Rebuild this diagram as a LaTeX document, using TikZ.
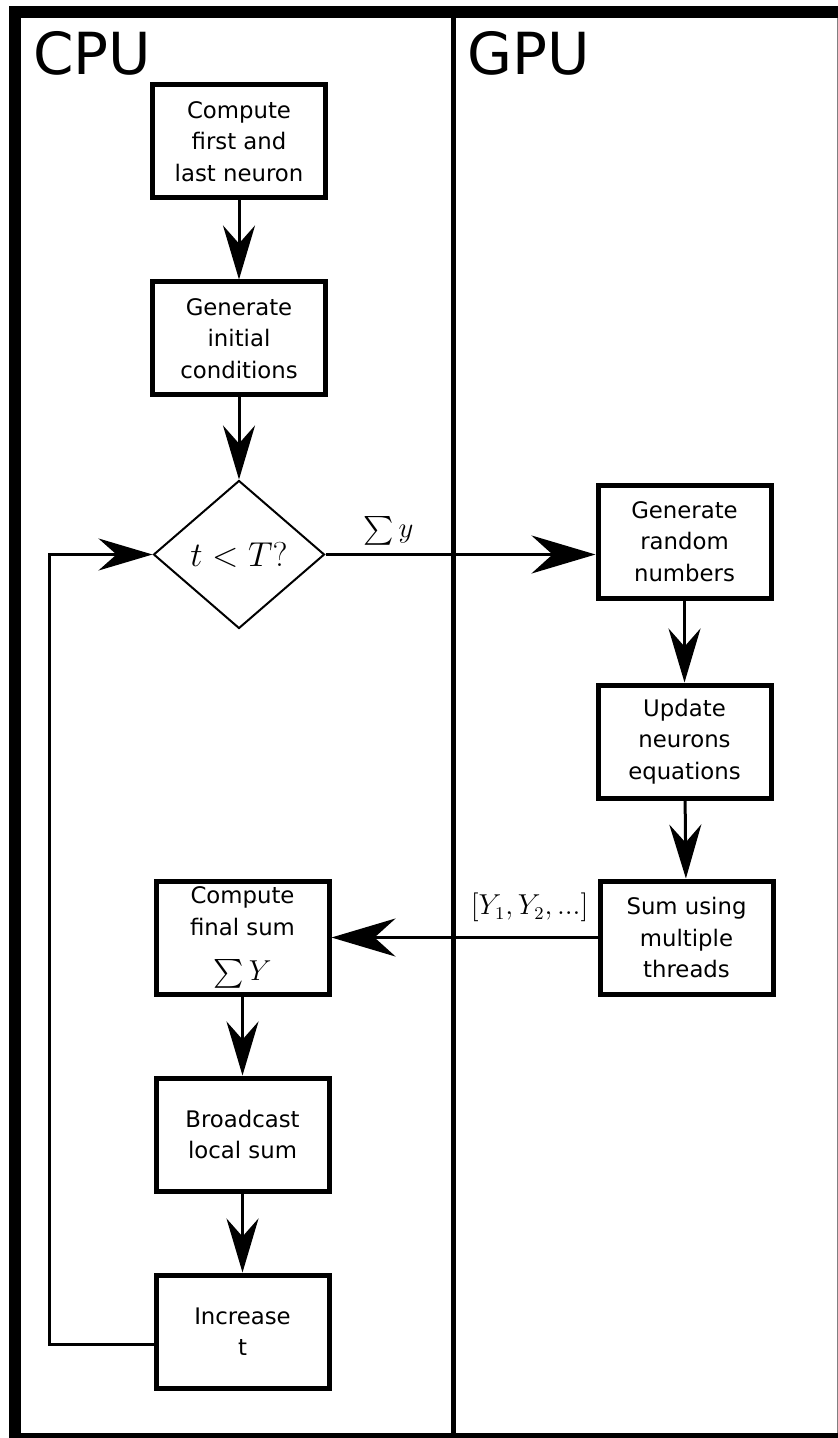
\documentclass[tikz,border=0pt]{standalone}
\usepackage{fontspec}
\setmainfont{DejaVu Sans}
\usepackage{amsmath}
\usetikzlibrary{positioning, arrows.meta, shapes.geometric}

\tikzset{
  procbox/.style={draw, rectangle, line width=2.5pt, minimum width=86.5pt, minimum height=56.5pt, align=center, inner sep=2pt, font=\fontsize{11.4}{15.8}\selectfont},
  decision/.style={draw, diamond, line width=1pt, minimum width=85.5pt, minimum height=74pt, inner sep=0pt, font=\fontsize{19}{19}\selectfont},
  lane/.style={anchor=base west, inner sep=0pt, font=\fontsize{29}{32}\selectfont},
  flow/.style={line width=1.5pt, -{Stealth[length=27pt, width=16pt, inset=9pt]}},
  wideflow/.style={line width=1.5pt, -{Stealth[length=32pt, width=19pt, inset=10.5pt]}},
}

\begin{document}
\begin{tikzpicture}[x=0.5pt, y=-0.5pt, node distance=39.5pt]
	\useasboundingbox (0,0) rectangle (838,1438);
	
	% Lanes
	\draw[line width=6pt] (15,1438) -- (15,12) -- (838,12);
	\draw[line width=2.5pt] (9,1435.5) -- (838,1435.5);
	\draw[line width=0.5pt, gray] (837,18) -- (837,1433);
	\draw[line width=2.5pt] (453.5,18) -- (453.5,1433);
	\node[lane] (cpu) at (33,75) {CPU};
	\node[lane] (gpu) at (467,75) {GPU};
	
	% Define nodes
	\node[procbox] (first) at (239,141.5) {Compute\\first and\\last neuron};
	\node[procbox, below=of first] (initc) {Generate\\initial\\conditions};
	\node[decision, below=41pt of initc] (check) {$t<T?$};
	\node[procbox, right=135pt of check, yshift=6.5pt] (random) {Generate\\random\\numbers};
	\node[procbox, below=41pt of random] (update) {Update\\neurons\\equations};
	\node[procbox, below=39pt of update, xshift=1pt] (sum) {Sum using\\multiple\\threads};
	\node[procbox, left=133pt of sum] (final) {Compute\\final sum\\[7pt]{\fontsize{15}{15}\selectfont$\sum Y$}};
	\node[procbox, below=of final] (bcast) {Broadcast\\local sum};
	\node[procbox, below=of bcast] (incr) {Increase\\t};
	
	% Arrows between blocks with labels
	\draw[flow] (first) -- (initc);
	\draw[flow] (initc) -- (check);
	\draw[wideflow] (check.east) -- (check.east -| random.west) node[pos=0.233, above=4pt, inner sep=0pt, font=\fontsize{15.5}{15.5}\selectfont] {$\sum y$};
	\draw[flow] (random) -- (update);
	\draw[flow] (update) -- (sum);
	\draw[wideflow] (sum.west) -- (sum.west -| final.east) node[pos=0.255, above=7pt, inner sep=0pt, font=\fontsize{13.5}{13.5}\selectfont] {$[Y_1,Y_2,...]$};
	\draw[flow] (final) -- (bcast);
	\draw[flow] (bcast) -- (incr);
	\draw[flow] ([yshift=-6.5pt]incr.west) -- ++(-104,0) |- (check.west);
\end{tikzpicture}
\end{document}
